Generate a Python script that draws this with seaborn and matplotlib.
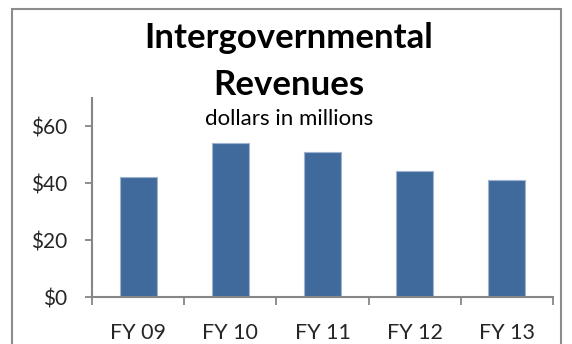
import matplotlib
matplotlib.use("Agg")
import matplotlib.pyplot as plt
import seaborn as sns
import pandas as pd
from matplotlib.patches import Rectangle
from matplotlib.ticker import FixedLocator, FuncFormatter

# Intergovernmental revenues by fiscal year, dollars in millions
years = ["FY 09", "FY 10", "FY 11", "FY 12", "FY 13"]
revenues = [42.1, 54.3, 50.9, 44.2, 41.3]
y_ticks = [0, 20, 40, 60]

df = pd.DataFrame({"year": years, "revenue": revenues})

sns.set_theme(style="white")
plt.rcParams["font.family"] = ["Lato", "DejaVu Sans"]

W, H = 572, 344
fig = plt.figure(figsize=(W / 100, H / 100), dpi=100)
ax = fig.add_axes([92 / W, 1 - 297 / H, (553 - 92) / W, (297 - 98) / H])

sns.barplot(data=df, x="year", y="revenue", color="#416A9C", width=0.4,
            saturation=1, edgecolor="#9DB3CF", linewidth=0.8, ax=ax)

ax.set_xlim(-0.5, len(years) - 0.5)
ax.set_ylim(0, 70)
ax.set_xlabel("")
ax.set_ylabel("")

ax.yaxis.set_major_locator(FixedLocator(y_ticks))
ax.yaxis.set_major_formatter(FuncFormatter(lambda v, _: f"${v:.0f}"))

# category boundaries carry the tick marks; labels sit at the centers
ax.set_xticks(range(len(years)))
ax.set_xticklabels(years)
ax.set_xticks([i - 0.5 for i in range(len(years) + 1)], minor=True)
ax.tick_params(axis="x", which="major", length=0, pad=18.5, labelsize=15.5)
ax.tick_params(axis="x", which="minor", length=6, width=1.3, color="#868686",
               direction="out", bottom=True)
ax.tick_params(axis="y", which="major", length=5, width=1.3, color="#868686",
               direction="out", left=True, labelsize=15, pad=13)

for side in ["top", "right"]:
    ax.spines[side].set_visible(False)
for side in ["left", "bottom"]:
    ax.spines[side].set_color("#868686")
    ax.spines[side].set_linewidth(1.5)

cx = 289 / W
fig.text(cx, 1 - 48 / H, "Intergovernmental", ha="center", va="baseline",
         fontsize=25, fontweight="bold", color="black")
fig.text(cx, 1 - 95 / H, "Revenues", ha="center", va="baseline",
         fontsize=25, fontweight="bold", color="black")
fig.text(cx, 1 - 125 / H, "dollars in millions", ha="center", va="baseline",
         fontsize=16, color="black")

# chart frame
fig.patches.append(Rectangle((12 / W, -0.05), (561 - 12) / W, 1.05 - 9 / H,
                             transform=fig.transFigure, fill=False,
                             edgecolor="#8C8C8C", linewidth=1.5))

fig.savefig("out.png", dpi=100, facecolor="white")
